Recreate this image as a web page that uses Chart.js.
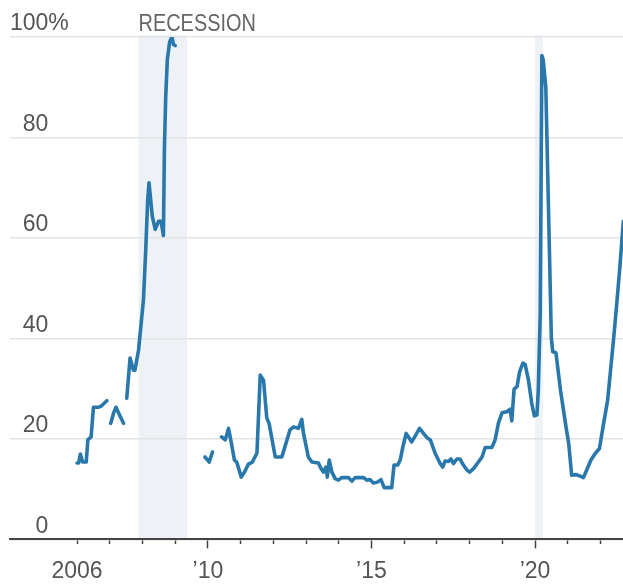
<!DOCTYPE html>
<html>
<head>
<meta charset="utf-8">
<script src="https://cdn.jsdelivr.net/npm/chart.js@4.4.0/dist/chart.umd.min.js"></script>
<style>
  html, body { margin: 0; padding: 0; background: #fff; }
  #wrap { width: 623px; height: 586px; }
</style>
</head>
<body>
<div id="wrap"><canvas id="chart"></canvas></div>
<script>
// Series: decimal years and values in %, null = gap in the line
const dates = [
    2006.00, 2006.05, 2006.10, 2006.17, 2006.28, 2006.33, 2006.43, 2006.50, 2006.65, 2006.75, 2006.91,
    2006.97,
    2007.03, 2007.12, 2007.19, 2007.26, 2007.42,
    2007.47,
    2007.52, 2007.62, 2007.72, 2007.77, 2007.88, 2008.03, 2008.10, 2008.16, 2008.20, 2008.30, 2008.39,
    2008.49, 2008.57, 2008.64, 2008.67, 2008.71, 2008.76, 2008.83, 2008.90, 2008.95, 2009.00,
    2009.05,
    2009.91, 2010.04, 2010.14,
    2010.28,
    2010.42, 2010.53, 2010.63, 2010.71, 2010.81, 2010.88, 2011.02, 2011.12, 2011.24, 2011.36, 2011.50,
    2011.60, 2011.70, 2011.80, 2011.87, 2012.06, 2012.26, 2012.51, 2012.62, 2012.77, 2012.87, 2012.92,
    2013.07, 2013.18, 2013.38, 2013.45, 2013.53, 2013.61, 2013.65, 2013.71, 2013.79, 2013.89, 2013.99,
    2014.09, 2014.30, 2014.40, 2014.50, 2014.76, 2014.86, 2014.96, 2015.06, 2015.18, 2015.29, 2015.39,
    2015.62, 2015.69, 2015.80, 2015.88, 2015.96, 2016.06, 2016.13, 2016.23, 2016.34, 2016.47, 2016.59,
    2016.69, 2016.80, 2016.95, 2017.10, 2017.18, 2017.25, 2017.35, 2017.43, 2017.51, 2017.61, 2017.71,
    2017.81, 2017.92, 2018.00, 2018.12, 2018.27, 2018.38, 2018.48, 2018.68, 2018.78, 2018.88, 2018.99,
    2019.14, 2019.24, 2019.29, 2019.36, 2019.45, 2019.53, 2019.63, 2019.70, 2019.80, 2019.90, 2019.98,
    2020.06, 2020.10, 2020.16, 2020.21, 2020.25, 2020.33, 2020.50, 2020.54, 2020.64, 2020.78, 2020.93,
    2021.03, 2021.12, 2021.26, 2021.38, 2021.48, 2021.58, 2021.71, 2021.84, 2021.97, 2022.09, 2022.22,
    2022.32, 2022.40, 2022.51, 2022.60, 2022.70
];
const values = [
    15.2, 15.2, 17.0, 15.4, 15.4, 19.8, 20.4, 26.3, 26.3, 26.6, 27.6,
    null,
    23.1, 25.2, 26.3, 25.3, 23.1,
    null,
    28.1, 36.1, 33.7, 33.7, 37.7, 47.7, 57.7, 67.7, 71.0, 64.3, 61.7,
    63.3, 63.3, 60.5, 77.6, 88.0, 95.5, 99.0, 100, 98.5, 98.3,
    null,
    16.4, 15.4, 17.4,
    null,
    20.4, 19.8, 22.1, 19.4, 15.8, 15.4, 12.4, 13.4, 15.0, 15.4, 17.2,
    32.7, 31.7, 24.2, 23.1, 16.4, 16.4, 21.8, 22.4, 22.1, 23.9, 21.2,
    16.4, 15.4, 15.2, 14.2, 13.4, 14.4, 12.4, 15.8, 13.4, 12.1, 11.8,
    12.3, 12.3, 11.6, 12.3, 12.3, 11.8, 11.9, 11.2, 11.4, 11.9, 10.3,
    10.3, 14.8, 14.8, 15.8, 18.4, 21.1, 20.4, 19.4, 20.6, 22.1, 21.1,
    20.3, 19.8, 17.1, 15.1, 14.4, 15.6, 15.5, 16.0, 15.1, 16.0, 16.0,
    14.8, 13.8, 13.4, 14.1, 15.4, 16.4, 18.3, 18.3, 19.8, 23.1, 25.2,
    25.4, 25.9, 23.6, 29.9, 30.4, 33.4, 35.1, 34.8, 31.7, 27.1, 24.6,
    24.8, 29.7, 45.0, 96.3, 95.5, 90.0, 40.0, 37.4, 37.1, 29.7, 23.1,
    19.1, 12.8, 12.9, 12.6, 12.3, 13.8, 15.8, 17.1, 18.1, 22.8, 27.7,
    34.4, 39.7, 47.7, 54.7, 63.3
];

// Recession periods (decimal years)
const recessionStart = [2007.88, 2020.00];
const recessionEnd = [2009.36, 2020.24];

// Axis ticks
const tickYears = [2006, 2007, 2008, 2009, 2010, 2011, 2012, 2013, 2014, 2015, 2016, 2017, 2018, 2019, 2020, 2021, 2022];
const labelYears = [2006, 2010, 2015, 2020];
const labelText = ['2006', '\u201910', '\u201915', '\u201920'];
const longTickYears = [2010, 2015, 2020];
const yTicks = [0, 20, 40, 60, 80, 100];

const X_MIN = 2003.95;
const X_MAX = 2022.69;
const FONT = '"Liberation Sans", Arial, sans-serif';
const FONT_SIZE = 23;
const TEXT = '#555555';
const LINE = '#2978ab';
const Y_LIFT = -13;

// Shaded recession bands + label, and the "%" after 100
const recessionPlugin = {
    id: 'recession',
    beforeDraw(chart) {
        const { ctx, chartArea, scales } = chart;
        ctx.save();
        ctx.fillStyle = '#eef1f5';
        recessionStart.forEach((s, i) => {
            const x1 = scales.x.getPixelForValue(s);
            const x2 = scales.x.getPixelForValue(recessionEnd[i]);
            ctx.fillRect(x1, chartArea.top - 2, x2 - x1, chartArea.bottom - chartArea.top + 2);
        });
        ctx.restore();
    },
    afterDraw(chart) {
        const { ctx, chartArea, scales } = chart;
        ctx.save();
        ctx.font = FONT_SIZE + 'px ' + FONT;
        ctx.fillStyle = TEXT;
        ctx.textAlign = 'left';
        ctx.textBaseline = 'middle';
        const x = chartArea.left + ctx.measureText('100').width;
        ctx.fillText('%', x, scales.y.getPixelForValue(100) + Y_LIFT);

        // narrow-looking label: squeeze horizontally
        ctx.font = '24px ' + FONT;
        ctx.fillStyle = '#666666';
        ctx.textBaseline = 'alphabetic';
        ctx.translate(scales.x.getPixelForValue(recessionStart[0]), 30.5);
        ctx.scale(0.83, 1);
        ctx.fillText('RECESSION', 0, 0);
        ctx.restore();
    }
};

const ctx = document.getElementById('chart').getContext('2d');
new Chart(ctx, {
    type: 'line',
    data: {
        datasets: [{
            data: dates.map((d, i) => ({ x: d, y: values[i] })),
            borderColor: LINE,
            borderWidth: 3.6,
            borderJoinStyle: 'round',
            borderCapStyle: 'round',
            pointRadius: 0,
            tension: 0,
            spanGaps: false
        }]
    },
    options: {
        responsive: true,
        maintainAspectRatio: false,
        animation: false,
        layout: { padding: { top: 37, left: 10, right: 0, bottom: -8 } },
        plugins: {
            legend: { display: false },
            tooltip: { enabled: false }
        },
        scales: {
            x: {
                type: 'linear',
                min: X_MIN,
                max: X_MAX,
                afterBuildTicks: axis => { axis.ticks = tickYears.map(v => ({ value: v })); },
                ticks: {
                    autoSkip: false,
                    maxRotation: 0,
                    padding: 9,
                    color: TEXT,
                    font: { family: FONT, size: FONT_SIZE },
                    callback: v => {
                        const i = labelYears.indexOf(v);
                        return i < 0 ? '' : labelText[i];
                    }
                },
                grid: {
                    drawOnChartArea: false,
                    drawTicks: true,
                    tickLength: 9,
                    tickWidth: 1.5,
                    tickColor: '#444444',
                    tickBorderDash: c => (c.tick && longTickYears.includes(c.tick.value)) ? [] : [4, 20]
                },
                border: { display: true, color: '#444444', width: 2 }
            },
            y: {
                min: 0,
                max: 100,
                afterBuildTicks: axis => { axis.ticks = yTicks.map(v => ({ value: v })); },
                ticks: {
                    mirror: true,
                    crossAlign: 'far',
                    padding: 0,
                    labelOffset: Y_LIFT,
                    color: TEXT,
                    font: { family: FONT, size: FONT_SIZE },
                    callback: v => String(v)
                },
                grid: { color: '#e4e4e4', lineWidth: 1.5, drawTicks: false },
                border: { display: false }
            }
        }
    },
    plugins: [recessionPlugin]
});
</script>
</body>
</html>
